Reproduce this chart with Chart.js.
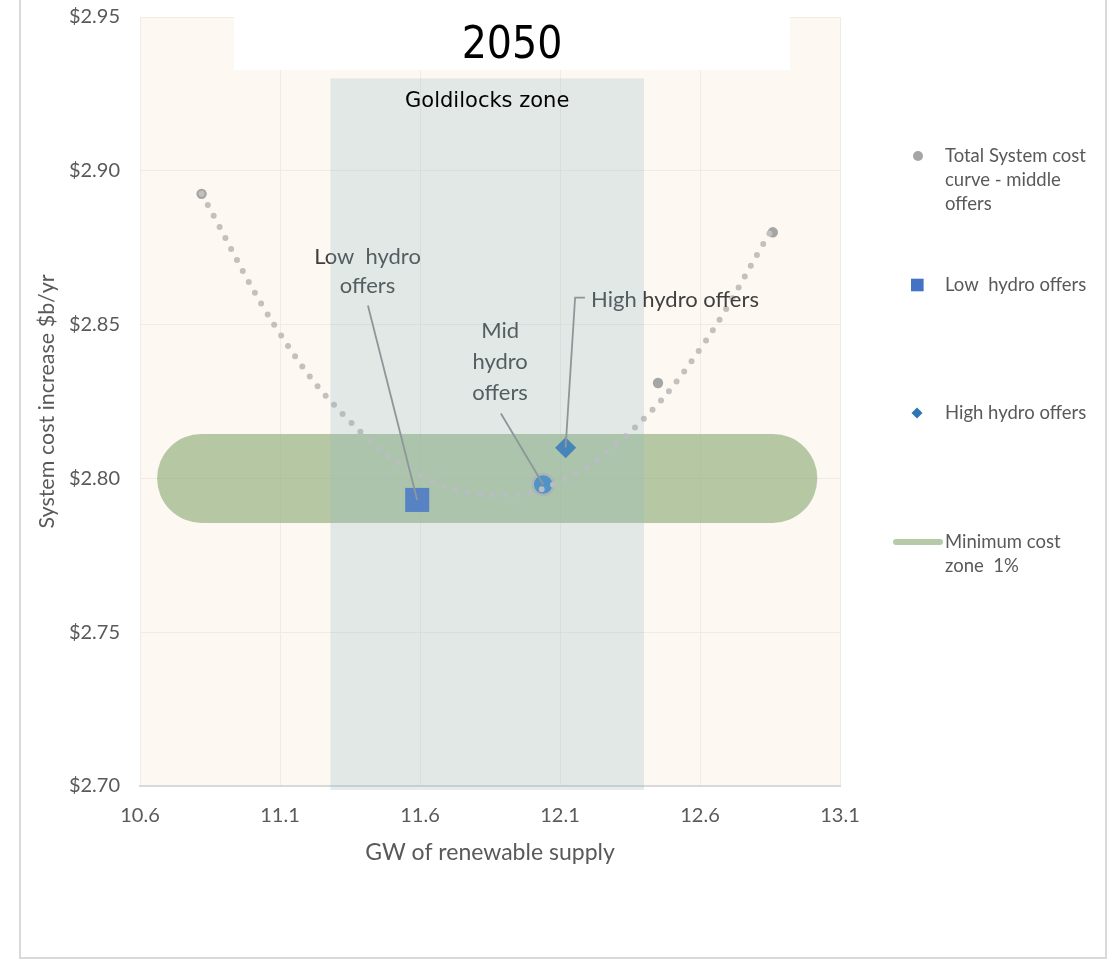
<!DOCTYPE html>
<html>
<head>
<meta charset="utf-8">
<script src="https://cdn.jsdelivr.net/npm/chart.js@4.4.0/dist/chart.umd.min.js"></script>
<style>
  html, body { margin: 0; padding: 0; background: #fff; }
  canvas { display: block; }
</style>
</head>
<body>
<canvas id="chart" width="1109" height="965"></canvas>
<script>
// 2050: GW of renewable supply vs system cost increase ($b/yr)
const costX = [10.82, 12.04, 12.45, 12.86];
const costY = [2.8925, 2.798, 2.831, 2.880];

// dotted fitted curve through the middle-offer runs
const trendX = [10.82, 11.1, 11.35, 11.6, 11.87, 12.1, 12.35, 12.6, 12.86];
const trendY = [2.8925, 2.847, 2.8185, 2.801, 2.7945, 2.799, 2.815, 2.842, 2.8815];

const lowHydro = [11.59, 2.793];
const highHydro = [12.12, 2.810];

const minZoneX = [10.82, 12.86];
const minZoneY = [2.80, 2.80];

const goldilocksX = [11.28, 12.40];
const goldilocksTop = 2.93;

const xTicks = [10.6, 11.1, 11.6, 12.1, 12.6, 13.1];
const yTicks = [2.70, 2.75, 2.80, 2.85, 2.90, 2.95];

const FONT = 'Lato, "Open Sans", sans-serif';
const TEXT = '#595959';
const GREY_DOT = '#a5a5a5';
const TREND = '#c3c0bd';
const LOW_BLUE = '#4472c4';
const HIGH_BLUE = '#2e75b6';
const MID_BLUE = '#3d87c9';
const ZONE = 'rgba(150, 180, 130, 0.7)';

const pts = (xs, ys) => xs.map((v, i) => ({ x: v, y: ys[i] }));

// text callouts, placed in data units
const notes = [
  { lines: ['Low  hydro', 'offers'], at: [11.4125, 2.8721], step: 29, align: 'center',
    leader: [[11.414, 2.8562], lowHydro] },
  { lines: ['Mid', 'hydro', 'offers'], at: [11.886, 2.8481], step: 31, align: 'center',
    leader: [[11.889, 2.8211], [costX[1], costY[1]]] },
  { lines: ['High hydro offers'], at: [12.211, 2.8581], step: 0, align: 'left',
    leader: [[12.189, 2.8588], [12.154, 2.8588], highHydro] }
];

const legendItems = [
  { kind: 'dot', y: 156, lines: ['Total System cost', 'curve - middle', 'offers'] },
  { kind: 'square', y: 285, lines: ['Low  hydro offers'] },
  { kind: 'diamond', y: 413, lines: ['High hydro offers'] },
  { kind: 'band', y: 542, lines: ['Minimum cost', 'zone  1%'] }
];

function drawNotes(chart) {
  const { ctx, scales: { x, y } } = chart;
  const px = p => [x.getPixelForValue(p[0]), y.getPixelForValue(p[1])];
  ctx.save();
  ctx.strokeStyle = '#8c8c8c';
  ctx.lineWidth = 1.8;
  ctx.font = '22px ' + FONT;
  ctx.fillStyle = '#404040';
  ctx.textBaseline = 'middle';
  notes.forEach(n => {
    ctx.beginPath();
    n.leader.forEach((p, i) => {
      const [a, b] = px(p);
      if (i) ctx.lineTo(a, b); else ctx.moveTo(a, b);
    });
    ctx.stroke();
    ctx.textAlign = n.align;
    const [tx, ty] = px(n.at);
    n.lines.forEach((t, i) => ctx.fillText(t, tx, ty + i * n.step));
  });
  ctx.restore();
}

function drawLegend(ctx) {
  ctx.save();
  ctx.font = '18.5px ' + FONT;
  ctx.textBaseline = 'middle';
  legendItems.forEach(item => {
    const y = item.y;
    if (item.kind === 'dot') {
      ctx.fillStyle = GREY_DOT;
      ctx.beginPath();
      ctx.arc(918, y, 5, 0, Math.PI * 2);
      ctx.fill();
    } else if (item.kind === 'square') {
      ctx.fillStyle = LOW_BLUE;
      ctx.fillRect(911, y - 6.3, 12.6, 12.6);
    } else if (item.kind === 'diamond') {
      ctx.fillStyle = HIGH_BLUE;
      ctx.beginPath();
      ctx.moveTo(917, y - 5.5);
      ctx.lineTo(922.5, y);
      ctx.lineTo(917, y + 5.5);
      ctx.lineTo(911.5, y);
      ctx.closePath();
      ctx.fill();
    } else {
      ctx.strokeStyle = ZONE;
      ctx.lineWidth = 6;
      ctx.lineCap = 'round';
      ctx.beginPath();
      ctx.moveTo(896, y);
      ctx.lineTo(940, y);
      ctx.stroke();
    }
    ctx.fillStyle = TEXT;
    ctx.textAlign = 'left';
    item.lines.forEach((t, i) => ctx.fillText(t, 945, y + i * 24));
  });
  ctx.restore();
}

const decor = {
  id: 'decor',
  beforeDraw(chart) {
    const { ctx, chartArea: a } = chart;
    ctx.save();
    ctx.fillStyle = '#ffffff';
    ctx.fillRect(0, 0, chart.width, chart.height);
    ctx.fillStyle = '#fdf8f1';
    ctx.fillRect(a.left, a.top, a.right - a.left, a.bottom - a.top);
    ctx.restore();
  },
  afterDatasetsDraw(chart) {
    drawNotes(chart);
  },
  afterDraw(chart) {
    const { ctx, chartArea: a, scales: { x, y } } = chart;
    ctx.save();

    // Goldilocks zone, a translucent panel over the plot
    const gx0 = x.getPixelForValue(goldilocksX[0]);
    const gx1 = x.getPixelForValue(goldilocksX[1]);
    const gy0 = y.getPixelForValue(goldilocksTop);
    ctx.fillStyle = 'rgba(145, 184, 194, 0.25)';
    ctx.fillRect(gx0, gy0, gx1 - gx0, a.bottom + 4 - gy0);
    ctx.fillStyle = '#000000';
    ctx.font = '21px "DejaVu Sans", sans-serif';
    ctx.textAlign = 'center';
    ctx.textBaseline = 'middle';
    ctx.fillText('Goldilocks zone', (gx0 + gx1) / 2, gy0 + 23);

    // title box
    ctx.fillStyle = '#ffffff';
    ctx.fillRect(234, 16, 556, 54);
    ctx.fillStyle = '#000000';
    ctx.font = '44px "DejaVu Sans Condensed", "DejaVu Sans", sans-serif';
    ctx.fillText('2050', 512, 47);

    drawLegend(ctx);

    // outer frame
    ctx.strokeStyle = '#d9d9d9';
    ctx.lineWidth = 2;
    ctx.beginPath();
    ctx.moveTo(20, 0);
    ctx.lineTo(20, 958);
    ctx.lineTo(1106, 958);
    ctx.lineTo(1106, 0);
    ctx.stroke();
    ctx.restore();
  }
};

new Chart(document.getElementById('chart'), {
  type: 'scatter',
  data: {
    datasets: [
      {
        label: 'Total System cost curve - middle offers (fit)',
        data: pts(trendX, trendY),
        showLine: true,
        tension: 0.4,
        borderColor: TREND,
        borderWidth: 6,
        borderDash: [0, 12.5],
        borderCapStyle: 'round',
        pointRadius: 0,
        order: 0
      },
      {
        label: 'Total System cost curve - middle offers',
        data: pts(costX, costY),
        pointRadius: [5.2, 10.5, 5.2, 5.2],
        pointBackgroundColor: [GREY_DOT, MID_BLUE, GREY_DOT, GREY_DOT],
        pointBorderColor: [GREY_DOT, '#b4b4b4', GREY_DOT, GREY_DOT],
        pointBorderWidth: [0, 2.5, 0, 0],
        order: 1
      },
      {
        label: 'Low  hydro offers',
        data: [{ x: lowHydro[0], y: lowHydro[1] }],
        pointStyle: 'rect',
        pointRadius: 17,
        pointBackgroundColor: LOW_BLUE,
        pointBorderWidth: 0,
        order: 2
      },
      {
        label: 'High hydro offers',
        data: [{ x: highHydro[0], y: highHydro[1] }],
        pointStyle: 'rectRot',
        pointRadius: 10.5,
        pointBackgroundColor: HIGH_BLUE,
        pointBorderWidth: 0,
        order: 2
      },
      {
        label: 'Minimum cost zone  1%',
        data: pts(minZoneX, minZoneY),
        showLine: true,
        borderColor: ZONE,
        borderWidth: 89,
        borderCapStyle: 'round',
        pointRadius: 0,
        clip: false,
        order: 3
      }
    ]
  },
  options: {
    responsive: false,
    animation: false,
    devicePixelRatio: 1,
    events: [],
    layout: { padding: { top: 16, right: 269, left: 0, bottom: 0 } },
    plugins: { legend: { display: false }, tooltip: { enabled: false } },
    scales: {
      x: {
        type: 'linear',
        min: 10.6,
        max: 13.1,
        afterBuildTicks: s => { s.ticks = xTicks.map(v => ({ value: v })); },
        afterFit: s => { s.height = 179; },
        grid: { color: '#f0ebe4', drawTicks: false },
        border: { color: '#d9d9d9', width: 2 },
        ticks: {
          padding: 18, maxRotation: 0, color: TEXT,
          font: { family: FONT, size: 20 },
          callback: v => v.toFixed(1)
        },
        title: {
          display: true, text: 'GW of renewable supply', color: TEXT,
          font: { family: FONT, size: 23 }, padding: { bottom: 99 }
        }
      },
      y: {
        min: 2.70,
        max: 2.95,
        afterBuildTicks: s => { s.ticks = yTicks.map(v => ({ value: v })); },
        // fixed gutter; the plot area starts right at the top padding
        afterFit: s => { s.width = 140; s.paddingTop = 0; s.paddingBottom = 0; },
        grid: { color: '#f0ebe4', drawTicks: false },
        border: { display: false },
        ticks: {
          padding: 20, color: TEXT,
          font: { family: FONT, size: 20 },
          callback: v => '$' + v.toFixed(2)
        },
        title: {
          display: true, text: 'System cost increase $b/yr', color: TEXT,
          font: { family: FONT, size: 21.5 }, padding: { top: 34 }
        }
      }
    }
  },
  plugins: [decor]
});
</script>
</body>
</html>
